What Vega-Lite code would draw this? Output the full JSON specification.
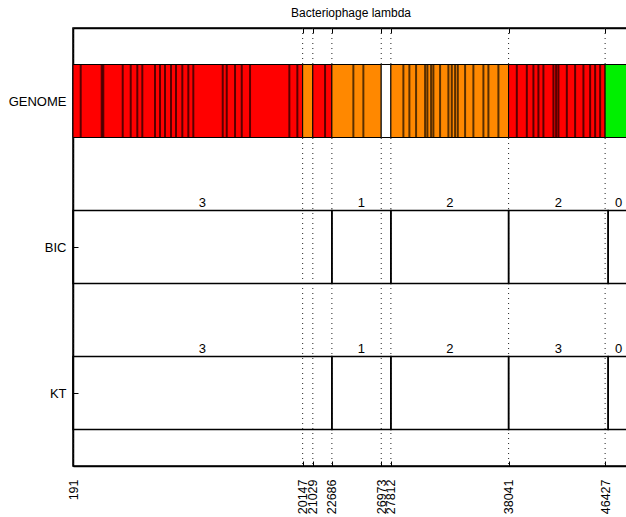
{
  "$schema": "https://vega.github.io/schema/vega-lite/v6.json",
  "width": 556,
  "height": 438,
  "autosize": {"type": "none"},
  "padding": {"left": 73, "top": 28, "right": 0, "bottom": 51},
  "background": "white",
  "title": {
    "text": "Bacteriophage lambda",
    "font": "Liberation Sans",
    "fontSize": 12,
    "fontWeight": "normal",
    "color": "black",
    "anchor": "middle",
    "offset": 8
  },
  "config": {
    "view": {"stroke": "black", "strokeWidth": 1.5},
    "axis": {
      "labelFont": "Liberation Sans",
      "labelFontSize": 12.5,
      "labelColor": "black",
      "domainColor": "black",
      "domainWidth": 1.5,
      "tickColor": "black",
      "tickWidth": 1,
      "grid": false,
      "title": null
    }
  },
  "datasets": {
    "cuts": [
      {"pos": 191}, {"pos": 20147}, {"pos": 21029}, {"pos": 22686},
      {"pos": 26973}, {"pos": 27812}, {"pos": 38041}, {"pos": 46427}
    ],
    "genome": [
      {"start": 191, "end": 20147, "class": "A"},
      {"start": 20147, "end": 21029, "class": "B"},
      {"start": 21029, "end": 22686, "class": "A"},
      {"start": 22686, "end": 26973, "class": "B"},
      {"start": 26973, "end": 27812, "class": "C"},
      {"start": 27812, "end": 38041, "class": "B"},
      {"start": 38041, "end": 46427, "class": "A"},
      {"start": 46427, "end": 48502, "class": "D"}
    ],
    "genes": [
      {"pos": 860}, {"pos": 2685}, {"pos": 2824}, {"pos": 4510}, {"pos": 5206},
      {"pos": 5779}, {"pos": 6214}, {"pos": 7318}, {"pos": 7752}, {"pos": 8187},
      {"pos": 8708}, {"pos": 9143}, {"pos": 9690}, {"pos": 10212}, {"pos": 10646},
      {"pos": 13201}, {"pos": 13549}, {"pos": 14270}, {"pos": 14853}, {"pos": 15574},
      {"pos": 18990}, {"pos": 19685}, {"pos": 22092}, {"pos": 24552}, {"pos": 25421},
      {"pos": 28898}, {"pos": 29419}, {"pos": 30001}, {"pos": 30784}, {"pos": 30984},
      {"pos": 31305}, {"pos": 31505}, {"pos": 32087}, {"pos": 32809}, {"pos": 33104},
      {"pos": 33391}, {"pos": 33626}, {"pos": 34260}, {"pos": 34981}, {"pos": 35851},
      {"pos": 36285}, {"pos": 37154}, {"pos": 38753}, {"pos": 39623}, {"pos": 40196},
      {"pos": 40631}, {"pos": 41065}, {"pos": 41934}, {"pos": 42169}, {"pos": 42369},
      {"pos": 43099}, {"pos": 43820}, {"pos": 44542}, {"pos": 45124}, {"pos": 45559},
      {"pos": 45993}
    ],
    "segments": [
      {"method": "BIC", "start": 191, "end": 22686, "k": 3},
      {"method": "BIC", "start": 22686, "end": 27812, "k": 1},
      {"method": "BIC", "start": 27812, "end": 38041, "k": 2},
      {"method": "BIC", "start": 38041, "end": 46690, "k": 2},
      {"method": "BIC", "start": 46690, "end": 48502, "k": 0},
      {"method": "KT", "start": 191, "end": 22686, "k": 3},
      {"method": "KT", "start": 22686, "end": 27812, "k": 1},
      {"method": "KT", "start": 27812, "end": 38041, "k": 2},
      {"method": "KT", "start": 38041, "end": 46690, "k": 3},
      {"method": "KT", "start": 46690, "end": 48502, "k": 0}
    ]
  },
  "resolve": {"axis": {"x": "independent", "y": "independent"}},
  "layer": [
    {
      "data": {"name": "cuts"},
      "mark": {"type": "rule", "color": "#222", "strokeWidth": 1, "strokeDash": [1, 4]},
      "encoding": {
        "x": {
          "field": "pos",
          "type": "quantitative",
          "scale": {"domain": [191, 48502], "nice": false, "zero": false},
          "axis": {
            "orient": "bottom",
            "values": [191, 20147, 21029, 22686, 26973, 27812, 38041, 46427],
            "format": "d",
            "labelAngle": -90,
            "labelOverlap": false,
            "labelPadding": 18,
            "tickSize": -5
          }
        }
      }
    },
    {
      "data": {"name": "cuts"},
      "mark": {"type": "rule", "opacity": 0},
      "encoding": {
        "x": {
          "field": "pos",
          "type": "quantitative",
          "axis": {
            "orient": "top",
            "values": [191, 20147, 21029, 22686, 26973, 27812, 38041, 46427],
            "labels": false,
            "tickSize": -5
          }
        }
      }
    },
    {
      "data": {"name": "genome"},
      "mark": {"type": "rect", "stroke": "black", "strokeWidth": 1},
      "encoding": {
        "x": {"field": "start", "type": "quantitative", "axis": null},
        "x2": {"field": "end"},
        "y": {
          "datum": 0.25,
          "type": "quantitative",
          "scale": {"domain": [0, 3], "reverse": true, "nice": false, "zero": false},
          "axis": {
            "orient": "left",
            "values": [0.5, 1.5, 2.5],
            "labelExpr": "datum.value < 1 ? 'GENOME' : datum.value < 2 ? 'BIC' : 'KT'",
            "labelFontSize": 13,
            "labelPadding": 12,
            "tickSize": -5
          }
        },
        "y2": {"datum": 0.75},
        "color": {
          "field": "class",
          "type": "nominal",
          "scale": {"domain": ["A", "B", "C", "D"], "range": ["#ff0000", "#ff8800", "#ffffff", "#00f000"]},
          "legend": null
        }
      }
    },
    {
      "data": {"name": "genes"},
      "mark": {"type": "rule", "color": "black", "strokeWidth": 2, "opacity": 0.65},
      "encoding": {
        "x": {"field": "pos", "type": "quantitative", "axis": null},
        "y": {"datum": 0.25, "type": "quantitative", "axis": null},
        "y2": {"datum": 0.75}
      }
    },
    {
      "data": {"name": "segments"},
      "transform": [
        {"filter": "datum.method == 'BIC'"},
        {"calculate": "(datum.start + datum.end) / 2", "as": "mid"}
      ],
      "layer": [
        {
          "mark": {"type": "rect", "fillOpacity": 0, "stroke": "black", "strokeWidth": 1.5},
          "encoding": {
            "x": {"field": "start", "type": "quantitative", "axis": null},
            "x2": {"field": "end"},
            "y": {"datum": 1.25, "type": "quantitative", "axis": null},
            "y2": {"datum": 1.75}
          }
        },
        {
          "mark": {"type": "text", "align": "center", "baseline": "bottom", "dy": -1, "fontSize": 13, "font": "Liberation Sans", "fill": "black"},
          "encoding": {
            "x": {"field": "mid", "type": "quantitative", "axis": null},
            "y": {"datum": 1.25, "type": "quantitative", "axis": null},
            "text": {"field": "k", "type": "quantitative"}
          }
        }
      ]
    },
    {
      "data": {"name": "segments"},
      "transform": [
        {"filter": "datum.method == 'KT'"},
        {"calculate": "(datum.start + datum.end) / 2", "as": "mid"}
      ],
      "layer": [
        {
          "mark": {"type": "rect", "fillOpacity": 0, "stroke": "black", "strokeWidth": 1.5},
          "encoding": {
            "x": {"field": "start", "type": "quantitative", "axis": null},
            "x2": {"field": "end"},
            "y": {
              "datum": 2.25,
              "type": "quantitative",
              "axis": {"orient": "right", "values": [0.5, 1.5, 2.5], "labels": false, "tickSize": -5}
            },
            "y2": {"datum": 2.75}
          }
        },
        {
          "mark": {"type": "text", "align": "center", "baseline": "bottom", "dy": -1, "fontSize": 13, "font": "Liberation Sans", "fill": "black"},
          "encoding": {
            "x": {"field": "mid", "type": "quantitative", "axis": null},
            "y": {"datum": 2.25, "type": "quantitative", "axis": null},
            "text": {"field": "k", "type": "quantitative"}
          }
        }
      ]
    }
  ]
}
